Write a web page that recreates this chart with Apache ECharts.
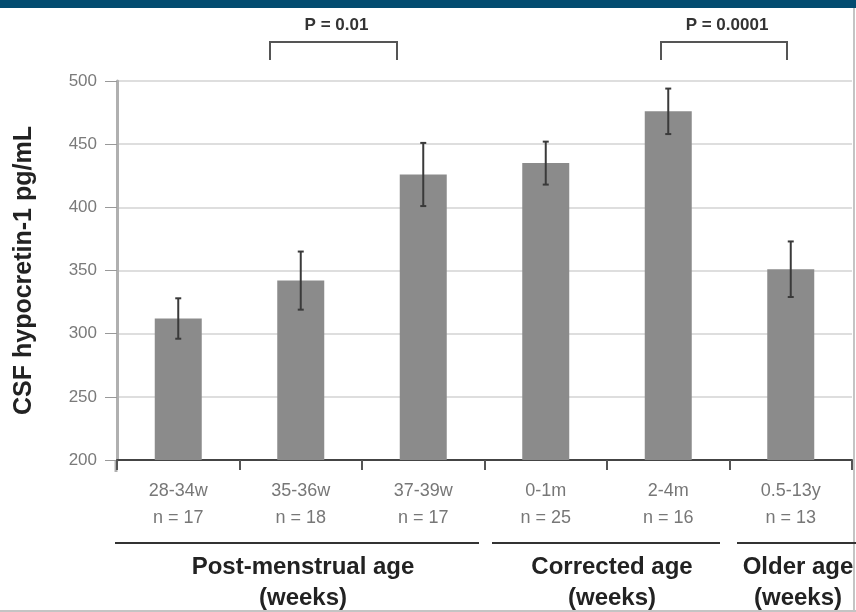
<!DOCTYPE html>
<html>
<head>
<meta charset="utf-8">
<script src="https://cdn.jsdelivr.net/npm/echarts@6/dist/echarts.min.js"></script>
<style>
  html, body { margin: 0; padding: 0; background: #fff; }
  #chart { width: 856px; height: 612px; }
</style>
</head>
<body>
<div id="chart"></div>
<script>
// Age groups and CSF hypocretin-1 levels (mean ± SEM)
const categories = ['28-34w', '35-36w', '37-39w', '0-1m', '2-4m', '0.5-13y'];
const sampleSizes = [17, 18, 17, 25, 16, 13];
const means = [312, 342, 426, 435, 476, 351];
const errors = [16, 23, 25, 17, 18, 22];

// Value axis
const yMin = 200;
const yMax = 500;
const yStep = 50;

// Group captions under the category axis
const groupNames = ['Post-menstrual age', 'Corrected age', 'Older age'];
const groupUnit = '(weeks)';

// Significance annotations
const pLabels = ['P = 0.01', 'P = 0.0001'];

const FONT = '"Liberation Sans", Arial, sans-serif';

const chart = echarts.init(document.getElementById('chart'), null, { renderer: 'canvas' });

const errorData = categories.map((c, i) => [i, means[i] - errors[i], means[i] + errors[i]]);

function bracket(x1, x2, label) {
  return [
    {
      type: 'polyline',
      shape: { points: [[x1, 60], [x1, 42], [x2, 42], [x2, 60]] },
      style: { stroke: '#555', lineWidth: 2, fill: null }
    },
    {
      type: 'text',
      style: {
        x: (x1 + x2) / 2 + 3, y: 25, text: label,
        font: 'bold 17px ' + FONT, fill: '#333',
        align: 'center', verticalAlign: 'middle'
      }
    }
  ];
}

function groupCaption(x1, x2, cx, name) {
  return [
    {
      type: 'line',
      shape: { x1: x1, y1: 543, x2: x2, y2: 543 },
      style: { stroke: '#333', lineWidth: 2 }
    },
    {
      type: 'text',
      style: {
        x: cx, y: 567, text: name,
        font: 'bold 24px ' + FONT, fill: '#222',
        align: 'center', verticalAlign: 'middle'
      }
    },
    {
      type: 'text',
      style: {
        x: cx, y: 598, text: groupUnit,
        font: 'bold 24px ' + FONT, fill: '#222',
        align: 'center', verticalAlign: 'middle'
      }
    }
  ];
}

const graphics = [
  // header band
  { type: 'rect', shape: { x: 0, y: 0, width: 856, height: 8 }, style: { fill: '#034c70' } },
  // frame edges
  { type: 'line', shape: { x1: 854, y1: 8, x2: 854, y2: 612 }, style: { stroke: '#c4c4c4', lineWidth: 2 } },
  { type: 'line', shape: { x1: 0, y1: 611, x2: 856, y2: 611 }, style: { stroke: '#c4c4c4', lineWidth: 2 } },
  // value axis continues a little below the baseline
  { type: 'line', shape: { x1: 116, y1: 460, x2: 116, y2: 472 }, style: { stroke: '#b0b0b0', lineWidth: 3 } }
]
  .concat(bracket(270, 397, pLabels[0]))
  .concat(bracket(661, 787, pLabels[1]))
  .concat(groupCaption(115, 479, 303, groupNames[0]))
  .concat(groupCaption(492, 720, 612, groupNames[1]))
  .concat(groupCaption(737, 856, 798, groupNames[2]));

const option = {
  backgroundColor: '#ffffff',
  animation: false,
  grid: { left: 117, right: 4, top: 81, bottom: 152, containLabel: false },
  xAxis: {
    type: 'category',
    data: categories,
    boundaryGap: true,
    axisLine: { show: true, lineStyle: { color: '#444', width: 2 } },
    axisTick: { show: true, length: 10, lineStyle: { color: '#555', width: 2 } },
    axisLabel: {
      margin: 18,
      color: '#777',
      fontFamily: FONT,
      fontSize: 18,
      lineHeight: 27,
      formatter: (v, i) => v + '\nn = ' + sampleSizes[i]
    },
    splitLine: { show: false }
  },
  yAxis: {
    type: 'value',
    min: yMin,
    max: yMax,
    interval: yStep,
    name: 'CSF hypocretin-1 pg/mL',
    nameLocation: 'middle',
    nameGap: 80,
    nameTextStyle: { fontFamily: FONT, fontSize: 25, fontWeight: 'bold', color: '#222' },
    axisLine: { show: true, lineStyle: { color: '#b0b0b0', width: 3 } },
    axisTick: { show: true, inside: false, length: 12, lineStyle: { color: '#999', width: 1 } },
    axisLabel: { margin: 20, color: '#7a7a7a', fontFamily: FONT, fontSize: 17 },
    splitLine: { show: true, lineStyle: { color: '#dedede', width: 2 } }
  },
  series: [
    {
      type: 'bar',
      data: means,
      barWidth: 47,
      itemStyle: { color: '#8b8b8b' },
      z: 2
    },
    {
      type: 'custom',
      data: errorData,
      z: 3,
      renderItem: function (params, api) {
        const lo = api.coord([api.value(0), api.value(1)]);
        const hi = api.coord([api.value(0), api.value(2)]);
        const cap = 3;
        const style = { stroke: '#3a3a3a', lineWidth: 2 };
        return {
          type: 'group',
          children: [
            { type: 'line', shape: { x1: hi[0], y1: hi[1], x2: lo[0], y2: lo[1] }, style: style },
            { type: 'line', shape: { x1: hi[0] - cap, y1: hi[1], x2: hi[0] + cap, y2: hi[1] }, style: style },
            { type: 'line', shape: { x1: lo[0] - cap, y1: lo[1], x2: lo[0] + cap, y2: lo[1] }, style: style }
          ]
        };
      }
    }
  ],
  graphic: graphics
};

chart.setOption(option);
</script>
</body>
</html>
